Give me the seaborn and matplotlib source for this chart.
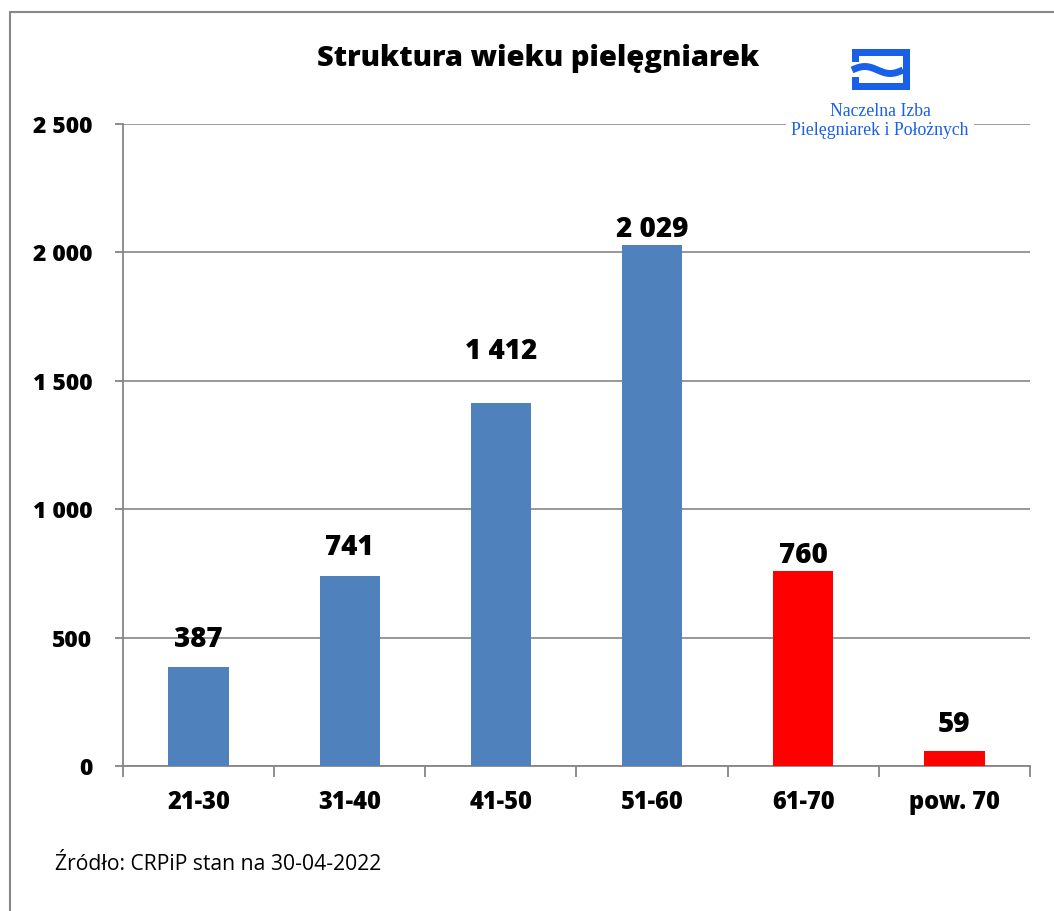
## Struktura wieku pielegniarek ##

import numpy as np
import pandas as pd
import matplotlib
matplotlib.use("Agg")
import matplotlib.pyplot as plt
from matplotlib.lines import Line2D
from matplotlib.patches import Rectangle
import seaborn as sns

# Datos
grupy = ['21-30', '31-40', '41-50', '51-60', '61-70', 'pow. 70']
liczba = [387, 741, 1412, 2029, 760, 59]
kolory = ['#4F81BD', '#4F81BD', '#4F81BD', '#4F81BD', '#FF0000', '#FF0000']
y_ticks = [0, 500, 1000, 1500, 2000, 2500]

# separacion de las etiquetas (px) como en el original
label_gap = [13, 14, 37, 1, 1, 12]

df = pd.DataFrame({'grupa': grupy, 'liczba': liczba})

def fmt(v):
    return '{:,}'.format(v).replace(',', ' ')

sns.set_style('white')
plt.rcParams['font.family'] = ['Open Sans', 'DejaVu Sans']
plt.rcParams['text.color'] = 'black'
plt.rcParams['xtick.color'] = 'black'
plt.rcParams['ytick.color'] = 'black'

fig = plt.figure(figsize=(10.54, 9.11), dpi=100)
ax = fig.add_axes([0.1167, 0.1592, 0.8605, 0.7047])

sns.barplot(data=df, x='grupa', y='liczba', hue='grupa', palette=kolory,
            width=0.4, saturation=1, legend=False, ax=ax, zorder=3, linewidth=0)

ax.set_ylim(0, 2500)
ax.set_xlim(-0.5, 5.5)
ax.set_yticks(y_ticks)
ax.set_yticklabels([fmt(v) for v in y_ticks], fontsize=16.5, fontweight='heavy')
ax.set_xticks(range(len(grupy)))
ax.set_xticklabels(grupy, fontsize=17, fontweight='heavy')
ax.set_xticks(np.arange(-0.5, 6, 1), minor=True)
ax.tick_params(axis='x', which='major', bottom=True, length=0, pad=17)
ax.tick_params(axis='x', which='minor', bottom=True, length=8, width=1.3, color='#868686', direction='out')
ax.tick_params(axis='y', left=True, length=6, width=1.3, color='#868686', labelcolor='black',
               direction='out', pad=16)
ax.set_xlabel('')
ax.set_ylabel('')

ax.yaxis.grid(True, color='#868686', linewidth=1.2, zorder=0)
ax.set_axisbelow(True)
for s in ['top', 'right']:
    ax.spines[s].set_visible(False)
for s in ['left', 'bottom']:
    ax.spines[s].set_color('#868686')
    ax.spines[s].set_linewidth(1.3)

# Etiquetas de valores
for i, v in enumerate(liczba):
    ax.annotate(fmt(v), (i, v), xytext=(0, label_gap[i] * 0.72), textcoords='offset points',
                ha='center', va='bottom', fontsize=20, fontweight='heavy', color='black')

# Titulo y fuente
fig.text(0.511, 0.936, 'Struktura wieku pielęgniarek', ha='center', va='center',
         fontsize=21, fontweight='heavy', color='black')
fig.text(0.052, 0.0505, 'Źródło: CRPiP stan na 30-04-2022', ha='left', va='center',
         fontsize=15.2, color='black')

# Marco (solo izquierda y arriba)
W, H = 1054, 911
fig.add_artist(Line2D([10 / W, 10 / W], [0, 1 - 12 / H], color='#888888', lw=1.5))
fig.add_artist(Line2D([10 / W, 1], [1 - 12 / H, 1 - 12 / H], color='#888888', lw=1.5))

# Logo NIPiP
logo_c = '#1A5FE8'
fig.text(880 / W, 1 - 121 / H, 'Naczelna Izba\nPielęgniarek i Położnych', ha='center', va='center',
         fontsize=12.8, family='Liberation Serif', color=logo_c, linespacing=1.15,
         bbox=dict(facecolor='white', edgecolor='none', pad=4))

def rect_px(x0, y0, x1, y1):
    fig.add_artist(Rectangle((x0 / W, 1 - y1 / H), (x1 - x0) / W, (y1 - y0) / H,
                             transform=fig.transFigure, facecolor=logo_c, edgecolor='none'))

rect_px(852, 49, 910, 56)     # barra superior
rect_px(852, 83, 910, 90)     # barra inferior
rect_px(903, 49, 910, 90)     # barra derecha
rect_px(852, 49, 859, 62)     # tope izquierdo
rect_px(852, 77, 859, 90)     # pie izquierdo
xs = np.linspace(852, 903, 40)
ys = 70 - 3.5 * np.sin((xs - 852) / 51 * 2 * np.pi)
fig.add_artist(Line2D(xs / W, 1 - ys / H, color=logo_c, lw=5, solid_capstyle='butt'))

plt.savefig('out.png', dpi=100)
